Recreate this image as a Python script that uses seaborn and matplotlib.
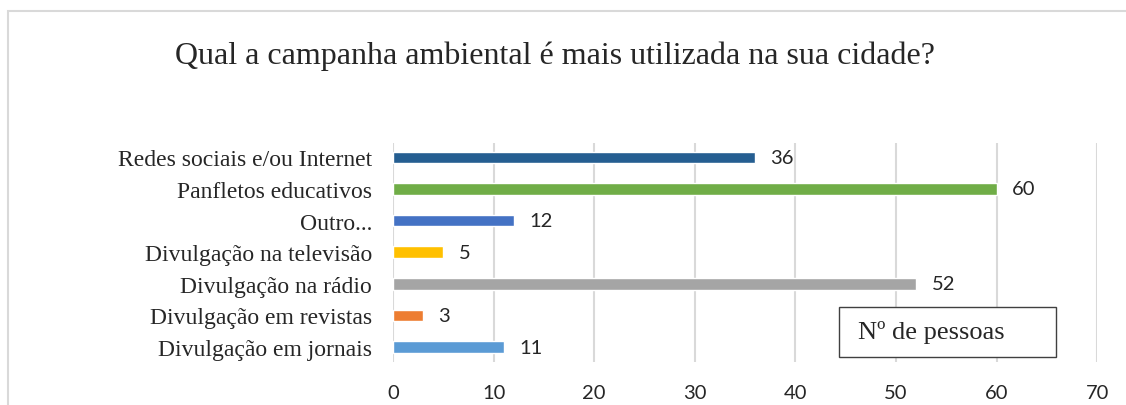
import matplotlib
matplotlib.use("Agg")
import matplotlib.pyplot as plt
import seaborn as sns
import pandas as pd
from matplotlib.patches import Rectangle

# dados (de cima para baixo)
categorias = ["Redes sociais e/ou Internet", "Panfletos educativos", "Outro...",
              "Divulgação na televisão", "Divulgação na rádio",
              "Divulgação em revistas", "Divulgação em jornais"]
pessoas = [36, 60, 12, 5, 52, 3, 11]
cores = ["#255E91", "#70AD47", "#4472C4", "#FFC000", "#A5A5A5", "#ED7D31", "#5B9BD5"]
ticks_x = [0, 10, 20, 30, 40, 50, 60, 70]

df = pd.DataFrame({"categoria": categorias, "pessoas": pessoas})

sns.set_style("white")
fig = plt.figure(figsize=(11.26, 4.06), dpi=100)
ax = fig.add_axes([0.349, 0.106, 0.6255, 0.539])

sns.barplot(data=df, x="pessoas", y="categoria", hue="categoria",
            palette=cores, legend=False, width=0.37, ax=ax, saturation=1)

ax.set_xlim(0, 70)
ax.set_ylim(6.47, -0.45)
ax.set_xticks(ticks_x)
ax.xaxis.grid(True, color="#d9d9d9", linewidth=1.5)
ax.set_axisbelow(True)
for s in ax.spines.values():
    s.set_visible(False)
ax.set_xlabel("")
ax.set_ylabel("")
ax.tick_params(axis="x", length=0, pad=16, labelsize=14.5)
ax.tick_params(axis="y", length=0, pad=15)
for t in ax.get_xticklabels():
    t.set_fontfamily("Lato")
for t in ax.get_yticklabels():
    t.set_fontfamily("Liberation Serif")
    t.set_fontsize(17)

for c in ax.containers:
    ax.bar_label(c, padding=11, fontsize=14.5, family="Lato")

fig.text(0.493, 0.862, "Qual a campanha ambiental é mais utilizada na sua cidade?",
         ha="center", va="center", family="Liberation Serif", fontsize=23)

# caixa da legenda "Nº de pessoas"
ax.add_patch(Rectangle((0.6335, 0.0228), 0.308, 0.228, transform=ax.transAxes,
                       facecolor="white", edgecolor="#404040", linewidth=1, zorder=5))
ax.text(0.6605, 0.137, "Nº de pessoas", transform=ax.transAxes, ha="left", va="center",
        family="Liberation Serif", fontsize=19, zorder=6)

fig.patches.append(Rectangle((8 / 1126, -0.05), 1.05, 1.05 - 12 / 406, transform=fig.transFigure,
                             fill=False, edgecolor="#d9d9d9", linewidth=1.5))

fig.savefig("out.png", dpi=100)
